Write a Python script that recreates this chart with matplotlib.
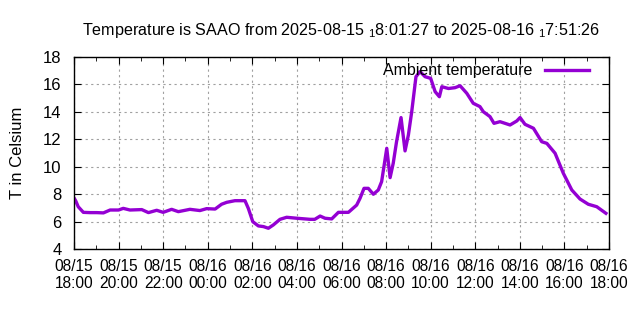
import numpy as np
import pandas as pd
import matplotlib
matplotlib.use("Agg")
import matplotlib.pyplot as plt
import matplotlib.dates as mdates

# hours since 2025-08-15 18:00
hours = [0.03, 0.08, 0.19, 0.42, 0.72, 1.02, 1.32, 1.62, 2.0, 2.21, 2.51, 3.04, 3.34,
         3.71, 4.0, 4.38, 4.68, 5.2, 5.65, 5.95, 6.33, 6.62, 6.85, 7.22, 7.67, 7.82,
         8.02, 8.27, 8.5, 8.72, 8.94, 9.24, 9.54, 9.99, 10.59, 10.8, 11.04, 11.26,
         11.56, 11.86, 12.31, 12.68, 12.83, 13.01, 13.2, 13.43, 13.65, 13.8, 14.03,
         14.18, 14.32, 14.47, 14.67, 14.85, 15.0, 15.15, 15.34, 15.52, 15.75, 16.0,
         16.2, 16.39, 16.5, 16.8, 17.09, 17.32, 17.62, 17.91, 18.21, 18.36, 18.66,
         18.84, 19.11, 19.56, 19.86, 20.01, 20.23, 20.61, 20.98, 21.21, 21.58, 21.95,
         22.33, 22.7, 23.07, 23.45, 23.86]
temps = [7.64, 7.5, 7.08, 6.67, 6.65, 6.65, 6.63, 6.84, 6.84, 6.96, 6.84, 6.87, 6.65,
         6.82, 6.67, 6.89, 6.72, 6.89, 6.8, 6.94, 6.91, 7.26, 7.4, 7.52, 7.52, 6.96,
         5.99, 5.68, 5.63, 5.51, 5.75, 6.16, 6.31, 6.24, 6.16, 6.16, 6.4, 6.24,
         6.19, 6.67, 6.67, 7.2, 7.69, 8.42, 8.42, 7.99, 8.3, 8.91, 11.34,
         9.2, 10.25, 11.83, 13.58, 11.15, 12.31, 14.01, 16.56, 16.93, 16.56, 16.44,
         15.47, 15.1, 15.83, 15.7, 15.76, 15.9, 15.35, 14.62, 14.38, 14.01, 13.65,
         13.16, 13.28, 13.04, 13.33, 13.58, 13.09, 12.8, 11.82, 11.7, 10.98, 9.52,
         8.3, 7.64, 7.26, 7.08, 6.6]

start = pd.Timestamp("2025-08-15 18:00")
times = [start + pd.Timedelta(hours=h) for h in hours]

plt.rcParams["font.family"] = ["Liberation Sans", "DejaVu Sans"]
plt.rcParams["font.size"] = 12

fig = plt.figure(figsize=(6.4, 3.2), dpi=100)
ax = fig.add_axes([0.1156, 0.222, 0.836, 0.600])

ax.plot(times, temps, color="#9400D3", lw=2.4, label="Ambient temperature")

ax.set_xlim(start, start + pd.Timedelta(hours=24))
ax.set_ylim(4, 18)
ax.set_yticks(range(4, 19, 2))
ax.xaxis.set_major_locator(mdates.HourLocator(byhour=range(0, 24, 2)))
ax.xaxis.set_minor_locator(mdates.HourLocator())
ax.xaxis.set_major_formatter(mdates.DateFormatter("%m/%d\n%H:%M"))

ax.grid(True, which="major", color="#a0a0a0", ls=(0, (2, 3)), lw=0.8)
ax.tick_params(which="both", direction="in", top=True, right=True)
ax.tick_params(axis="x", which="major", length=5, pad=7, labelsize=11.2)
ax.tick_params(axis="y", which="major", length=5, pad=9, labelsize=12)
ax.tick_params(which="minor", length=3)
for lbl in ax.get_xticklabels():
    lbl.set_linespacing(1.2)
for s in ax.spines.values():
    s.set_linewidth(1.0)

ax.set_ylabel("T in Celsium", labelpad=13)
ax.set_title("Temperature is SAAO from 2025-08-15 $_\\mathregular{1}$8:01:27 to "
             "2025-08-16 $_\\mathregular{1}$7:51:26", fontsize=11.6, pad=16)

ax.legend(loc="upper right", bbox_to_anchor=(1 - 14 / 535, 1),
          frameon=False, markerfirst=False, handlelength=2.75, handletextpad=0.8,
          borderaxespad=0, borderpad=0.4, fontsize=11.5)

fig.savefig("out.png", dpi=100)
